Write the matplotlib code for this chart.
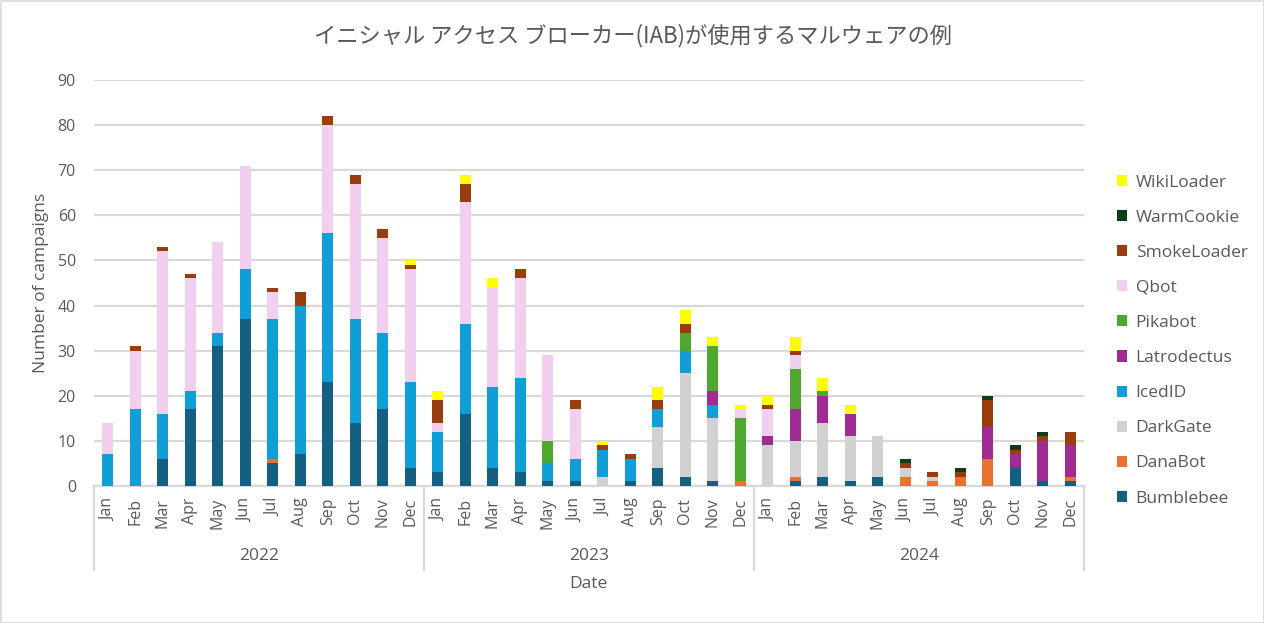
import matplotlib
matplotlib.use("Agg")
import matplotlib.pyplot as plt
import numpy as np
from matplotlib.patches import Rectangle
from matplotlib.transforms import blended_transform_factory

plt.rcParams["font.family"] = ["Open Sans", "Noto Sans CJK JP", "DejaVu Sans"]

# ---------------------------------------------------------------------------
# data (Jan 2022 .. Dec 2024)
# ---------------------------------------------------------------------------
years = ["2022", "2023", "2024"]
months = ["Jan", "Feb", "Mar", "Apr", "May", "Jun",
          "Jul", "Aug", "Sep", "Oct", "Nov", "Dec"]

bumblebee = [0, 0, 6, 17, 31, 37, 5, 7, 23, 14, 17, 4,
             3, 16, 4, 3, 1, 1, 0, 1, 4, 2, 1, 0,
             0, 1, 2, 1, 2, 0, 0, 0, 0, 4, 1, 1]
danabot = [0, 0, 0, 0, 0, 0, 1, 0, 0, 0, 0, 0,
           0, 0, 0, 0, 0, 0, 0, 0, 0, 0, 0, 1,
           0, 1, 0, 0, 0, 2, 1, 2, 6, 0, 0, 1]
darkgate = [0, 0, 0, 0, 0, 0, 0, 0, 0, 0, 0, 0,
            0, 0, 0, 0, 0, 0, 2, 0, 9, 23, 14, 0,
            9, 8, 12, 10, 9, 2, 1, 0, 0, 0, 0, 0]
icedid = [7, 17, 10, 4, 3, 11, 31, 33, 33, 23, 17, 19,
          9, 20, 18, 21, 4, 5, 6, 5, 4, 5, 3, 0,
          0, 0, 0, 0, 0, 0, 0, 0, 0, 0, 0, 0]
latrodectus = [0, 0, 0, 0, 0, 0, 0, 0, 0, 0, 0, 0,
               0, 0, 0, 0, 0, 0, 0, 0, 0, 0, 3, 0,
               2, 7, 6, 5, 0, 0, 0, 0, 7, 3, 9, 7]
pikabot = [0, 0, 0, 0, 0, 0, 0, 0, 0, 0, 0, 0,
           0, 0, 0, 0, 5, 0, 0, 0, 0, 4, 10, 14,
           0, 9, 1, 0, 0, 0, 0, 0, 0, 0, 0, 0]
qbot = [7, 13, 36, 25, 20, 23, 6, 0, 24, 30, 21, 25,
        2, 27, 22, 22, 19, 11, 0, 0, 0, 0, 0, 2,
        6, 3, 0, 0, 0, 0, 0, 0, 0, 0, 0, 0]
smokeloader = [0, 1, 1, 1, 0, 0, 1, 3, 2, 2, 2, 1,
               5, 4, 0, 2, 0, 2, 1, 1, 2, 2, 0, 0,
               1, 1, 0, 0, 0, 1, 1, 1, 6, 1, 1, 3]
warmcookie = [0, 0, 0, 0, 0, 0, 0, 0, 0, 0, 0, 0,
              0, 0, 0, 0, 0, 0, 0, 0, 0, 0, 0, 0,
              0, 0, 0, 0, 0, 1, 0, 1, 1, 1, 1, 0]
wikiloader = [0, 0, 0, 0, 0, 0, 0, 0, 0, 0, 0, 1,
              2, 2, 2, 0, 0, 0, 1, 0, 3, 3, 2, 1,
              2, 3, 3, 2, 0, 0, 0, 0, 0, 0, 0, 0]

# bottom -> top stacking order
series = [
    ("Bumblebee", bumblebee, "#156082"),
    ("DanaBot", danabot, "#E97132"),
    ("DarkGate", darkgate, "#D1D1D1"),
    ("IcedID", icedid, "#0F9ED5"),
    ("Latrodectus", latrodectus, "#A02B93"),
    ("Pikabot", pikabot, "#4EA72E"),
    ("Qbot", qbot, "#F2CEEF"),
    ("SmokeLoader", smokeloader, "#973D0E"),
    ("WarmCookie", warmcookie, "#0E3E16"),
    ("WikiLoader", wikiloader, "#FFFF00"),
]

TEXT = "#595959"
GRID = "#D9D9D9"

fig = plt.figure(figsize=(12.64, 6.23), dpi=100)
ax = fig.add_axes([94 / 1264, 1 - 486 / 623, (1084 - 94) / 1264, (486 - 80) / 623])

x = np.arange(len(years) * len(months))
bottom = np.zeros(len(x))
handles = []
for name, vals, color in series:
    vals = np.array(vals, dtype=float)
    h = ax.bar(x, vals, width=0.4, bottom=bottom, color=color, label=name, zorder=3)
    handles.append(h)
    bottom += vals

ax.set_xlim(-0.5, len(x) - 0.5)
ax.set_ylim(0, 90)
ax.set_yticks(np.arange(0, 91, 10))
ax.yaxis.grid(True, color=GRID, linewidth=1.6, zorder=0)
ax.set_axisbelow(True)
for side in ("top", "right", "left"):
    ax.spines[side].set_visible(False)
ax.spines["bottom"].set_color(GRID)
ax.spines["bottom"].set_linewidth(1.6)
ax.tick_params(axis="y", length=0, labelsize=11.5, labelcolor=TEXT, pad=13)
ax.tick_params(axis="x", length=0, labelsize=11.5, labelcolor=TEXT, pad=8.5)
ax.set_xticks(x)
ax.set_xticklabels(months * len(years), rotation=90)

# year groups under the month labels
trans = blended_transform_factory(ax.transData, ax.transAxes)
sep_bottom = -(570 - 486) / 406
for i in range(len(years) + 1):
    xs = i * 12 - 0.5
    ax.plot([xs, xs], [0, sep_bottom], transform=trans, color=GRID,
            linewidth=1.6, clip_on=False)
for i, yr in enumerate(years):
    ax.text(i * 12 + 5.5, -(556 - 486) / 406, yr, transform=trans,
            ha="center", va="center", fontsize=12.5, color=TEXT)

fig.text(588 / 1264, 1 - 584 / 623, "Date", ha="center", va="center",
         fontsize=12.5, color=TEXT)
fig.text(41 / 1264, 1 - 283 / 623, "Number of campaigns", ha="center",
         va="center", rotation=90, fontsize=12.5, color=TEXT)
fig.text(633 / 1264, 1 - 36 / 623, "イニシャル アクセス ブローカー(IAB)が使用するマルウェアの例",
         ha="center", va="center", fontsize=16, color=TEXT,
         family=["Noto Sans CJK JP", "DejaVu Sans"])

leg = fig.legend(handles[::-1], [s[0] for s in series][::-1],
                 loc="upper left", bbox_to_anchor=(1101 / 1264, 1 - 159 / 623),
                 frameon=False, fontsize=12.5, labelcolor=TEXT,
                 handlelength=0.6, handleheight=0.6, handletextpad=0.5,
                 labelspacing=1.1)

fig.patches.append(Rectangle((0.5 / 1264, 0.5 / 623), 1 - 1 / 1264, 1 - 1 / 623,
                             transform=fig.transFigure, fill=False,
                             edgecolor=GRID, linewidth=1.2))

fig.savefig("out.png", dpi=100)
